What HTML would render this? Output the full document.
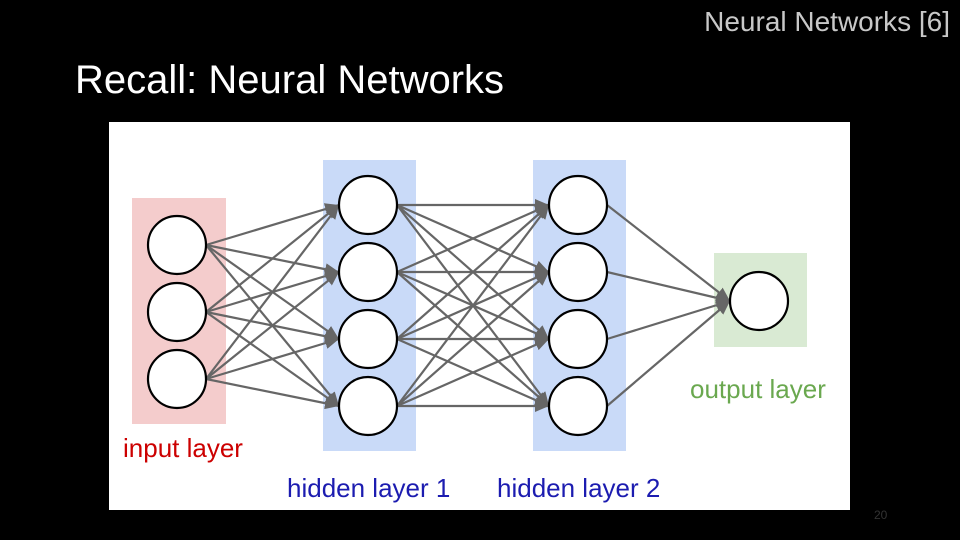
<!DOCTYPE html>
<html><head><style>
html,body{margin:0;padding:0;background:#000;width:960px;height:540px;overflow:hidden;font-family:"Liberation Sans",sans-serif}
.t{position:absolute;white-space:nowrap}
</style></head><body>
<div class="t" style="right:10px;top:6px;font-size:28px;color:#c8c8c8">Neural Networks [6]</div>
<div class="t" style="left:75px;top:58px;font-size:40px;color:#fff">Recall: Neural Networks</div>
<svg style="position:absolute;left:0;top:0" width="960" height="540">
<defs><marker id="a" markerWidth="8" markerHeight="8" refX="7" refY="4" orient="auto" markerUnits="userSpaceOnUse" viewBox="0 0 8 8"><path d="M0,0L8,4L0,8z" fill="#666"/></marker>
<marker id="b" markerWidth="14" markerHeight="12" refX="14" refY="6" orient="auto" markerUnits="userSpaceOnUse"><path d="M0,0L14,6L0,12z" fill="#666"/></marker></defs>
<rect x="109" y="122" width="741" height="388" fill="#fff"/>
<rect x="132" y="198" width="94" height="226" fill="#f4cccc"/>
<rect x="323" y="160" width="93" height="291" fill="#c9daf8"/>
<rect x="533" y="160" width="93" height="291" fill="#c9daf8"/>
<rect x="714" y="253" width="93" height="94" fill="#d9ead3"/>
<g stroke="#666" stroke-width="2.2" fill="none">
<g id="l1">
<line x1="206" y1="245" x2="339" y2="205" marker-end="url(#b)"/><line x1="206" y1="245" x2="339" y2="272" marker-end="url(#b)"/><line x1="206" y1="245" x2="339" y2="339" marker-end="url(#b)"/><line x1="206" y1="245" x2="339" y2="406" marker-end="url(#b)"/>
<line x1="206" y1="312" x2="339" y2="205" marker-end="url(#b)"/><line x1="206" y1="312" x2="339" y2="272" marker-end="url(#b)"/><line x1="206" y1="312" x2="339" y2="339" marker-end="url(#b)"/><line x1="206" y1="312" x2="339" y2="406" marker-end="url(#b)"/>
<line x1="206" y1="379" x2="339" y2="205" marker-end="url(#b)"/><line x1="206" y1="379" x2="339" y2="272" marker-end="url(#b)"/><line x1="206" y1="379" x2="339" y2="339" marker-end="url(#b)"/><line x1="206" y1="379" x2="339" y2="406" marker-end="url(#b)"/>
</g>
<line x1="397" y1="205" x2="549" y2="205" marker-end="url(#b)"/><line x1="397" y1="205" x2="549" y2="272" marker-end="url(#b)"/><line x1="397" y1="205" x2="549" y2="339" marker-end="url(#b)"/><line x1="397" y1="205" x2="549" y2="406" marker-end="url(#b)"/>
<line x1="397" y1="272" x2="549" y2="205" marker-end="url(#b)"/><line x1="397" y1="272" x2="549" y2="272" marker-end="url(#b)"/><line x1="397" y1="272" x2="549" y2="339" marker-end="url(#b)"/><line x1="397" y1="272" x2="549" y2="406" marker-end="url(#b)"/>
<line x1="397" y1="339" x2="549" y2="205" marker-end="url(#b)"/><line x1="397" y1="339" x2="549" y2="272" marker-end="url(#b)"/><line x1="397" y1="339" x2="549" y2="339" marker-end="url(#b)"/><line x1="397" y1="339" x2="549" y2="406" marker-end="url(#b)"/>
<line x1="397" y1="406" x2="549" y2="205" marker-end="url(#b)"/><line x1="397" y1="406" x2="549" y2="272" marker-end="url(#b)"/><line x1="397" y1="406" x2="549" y2="339" marker-end="url(#b)"/><line x1="397" y1="406" x2="549" y2="406" marker-end="url(#b)"/>
<line x1="607" y1="205" x2="730" y2="301" marker-end="url(#b)"/><line x1="607" y1="272" x2="730" y2="301" marker-end="url(#b)"/><line x1="607" y1="339" x2="730" y2="301" marker-end="url(#b)"/><line x1="607" y1="406" x2="730" y2="301" marker-end="url(#b)"/>
</g>
<g fill="#fff" stroke="#000" stroke-width="2.2">
<circle cx="177" cy="245" r="29"/><circle cx="177" cy="312" r="29"/><circle cx="177" cy="379" r="29"/>
<circle cx="368" cy="205" r="29"/><circle cx="368" cy="272" r="29"/><circle cx="368" cy="339" r="29"/><circle cx="368" cy="406" r="29"/>
<circle cx="578" cy="205" r="29"/><circle cx="578" cy="272" r="29"/><circle cx="578" cy="339" r="29"/><circle cx="578" cy="406" r="29"/>
<circle cx="759" cy="301" r="29"/>
</g>
<g font-family="Liberation Sans, sans-serif" font-size="26">
<text x="123" y="457" fill="#cc0000">input layer</text>
<text x="287" y="497" fill="#1c1cb0">hidden layer 1</text>
<text x="497" y="497" fill="#1c1cb0">hidden layer 2</text>
<text x="690" y="398" fill="#6aa84f">output layer</text>
</g>
<text x="874" y="519" font-family="Liberation Sans, sans-serif" font-size="12" fill="#333">20</text>
</svg>
</body></html>
